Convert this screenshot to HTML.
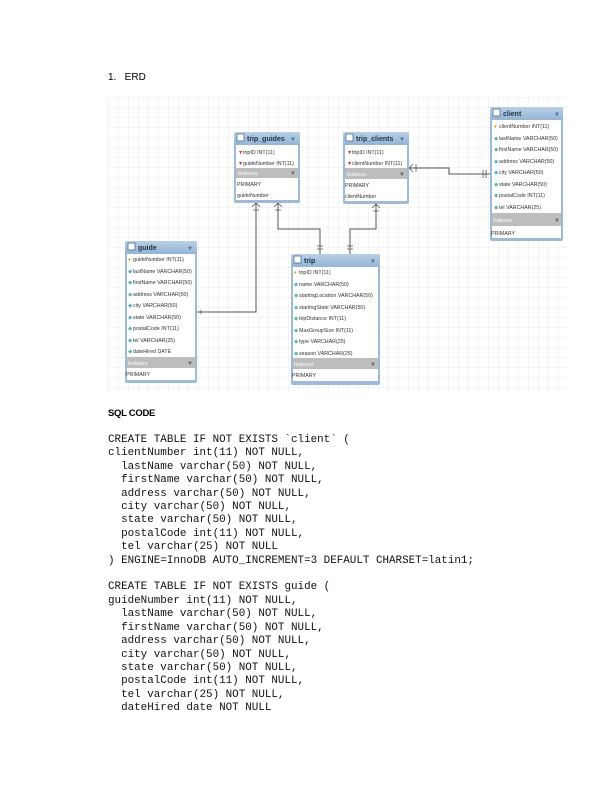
<!DOCTYPE html>
<html><head><meta charset="utf-8"><style>
html,body{margin:0;padding:0;background:#fff;}
body{width:612px;height:792px;position:relative;overflow:hidden;font-family:"Liberation Sans",sans-serif;}
.t{position:absolute;white-space:pre;}
.code{position:absolute;left:108px;top:434px;font-family:"Liberation Mono",monospace;font-size:10.9px;line-height:13.4px;white-space:pre;color:#111;margin:0;}
</style></head><body>
<div class="t" style="left:108px;top:72px;font-size:10px;">1.&nbsp;&nbsp;&nbsp;ERD</div>
<div class="t" style="left:108px;top:408px;font-size:9.5px;font-weight:bold;letter-spacing:-0.3px;">SQL CODE</div>
<svg style="position:absolute;left:0;top:0" width="612" height="400" viewBox="0 0 612 400">
<defs>
<pattern id="g" width="10" height="10" patternUnits="userSpaceOnUse" x="108" y="97">
<path d="M10 0H0V10" fill="none" stroke="#d8d8d8" stroke-width="0.6"/>
</pattern>
<linearGradient id="hd" x1="0" y1="0" x2="0" y2="1"><stop offset="0" stop-color="#b9d0e6"/><stop offset="1" stop-color="#92b4d3"/></linearGradient>
</defs>
<rect x="108" y="97" width="459" height="295" fill="url(#g)"/>
<g fill="none" stroke="#555" stroke-width="1">
<path d="M256 203V312H197"/>
<path d="M278 203V229H320V254"/>
<path d="M376 204V229H350V254"/>
<path d="M409 168H449V174H490"/>
</g>
<g stroke="#555" stroke-width="0.8" fill="none">
<path d="M252 207L256 203L260 207M253 210H259"/>
<path d="M274 207L278 203L282 207M275 210H281"/>
<path d="M372 208L376 204L380 208M373 211H379"/>
<path d="M317 246H323M317 249H323"/>
<path d="M347 246H353M347 249H353"/>
<path d="M413 164L409 168L413 172M416 164V172"/>
<path d="M483 170V178M486 170V178"/>
<path d="M201 310V314"/>
</g>
<g font-family="Liberation Sans,sans-serif" font-size="5.3" fill="#333">
<rect x="234" y="132" width="66" height="71" rx="2" fill="#9dbbd7"/>
<rect x="234" y="132" width="66" height="13" rx="2" fill="url(#hd)"/>
<rect x="236" y="145" width="62" height="23" fill="#fff"/>
<rect x="236" y="168" width="62" height="10" fill="#bdbdbd"/>
<rect x="236" y="178" width="62" height="22" fill="#fff"/>
<rect x="237" y="134" width="7" height="7" fill="#fff" stroke="#4a6f95" stroke-width="0.8"/>
<text x="247" y="141" font-size="7" font-weight="bold" fill="#1f2f44">trip_guides</text>
<text x="290" y="141" font-size="6" fill="#4a6f95">▼</text>
<text x="238" y="154" fill="#c33">▼</text><text x="243" y="154">tripID INT(11)</text>
<text x="238" y="165" fill="#c33">▼</text><text x="243" y="165">guideNumber INT(11)</text>
<text x="238" y="175" fill="#eee" font-weight="bold">Indexes</text><text x="290" y="175" font-size="6" fill="#666">▼</text>
<text x="237" y="186">PRIMARY</text><text x="237" y="197">guideNumber</text>
<rect x="343" y="132" width="66" height="72" rx="2" fill="#9dbbd7"/>
<rect x="343" y="132" width="66" height="13" rx="2" fill="url(#hd)"/>
<rect x="345" y="145" width="62" height="23" fill="#fff"/>
<rect x="345" y="168" width="62" height="11" fill="#bdbdbd"/>
<rect x="345" y="179" width="62" height="22" fill="#fff"/>
<rect x="346" y="134" width="7" height="7" fill="#fff" stroke="#4a6f95" stroke-width="0.8"/>
<text x="356" y="141" font-size="7" font-weight="bold" fill="#1f2f44">trip_clients</text>
<text x="399" y="141" font-size="6" fill="#4a6f95">▼</text>
<text x="347" y="154" fill="#c33">▼</text><text x="352" y="154">tripID INT(11)</text>
<text x="347" y="165" fill="#c33">▼</text><text x="352" y="165">clientNumber INT(11)</text>
<text x="347" y="176" fill="#eee" font-weight="bold">Indexes</text><text x="399" y="176" font-size="6" fill="#666">▼</text>
<text x="345" y="187">PRIMARY</text><text x="345" y="198">clientNumber</text>
<rect x="490" y="107" width="73" height="134" rx="2" fill="#9dbbd7"/>
<rect x="490" y="107" width="73" height="13" rx="2" fill="url(#hd)"/>
<rect x="492" y="120" width="69" height="93" fill="#fff"/>
<rect x="492" y="213" width="69" height="13" fill="#bdbdbd"/>
<rect x="492" y="226" width="69" height="12" fill="#fff"/>
<rect x="493" y="109" width="7" height="7" fill="#fff" stroke="#4a6f95" stroke-width="0.8"/>
<text x="503" y="116" font-size="7" font-weight="bold" fill="#1f2f44">client</text>
<text x="554" y="116" font-size="6" fill="#4a6f95">▼</text>
<text x="494" y="128" fill="#d9a300">♦</text><text x="499" y="128">clientNumber INT(11)</text>
<text x="499" y="140">lastName VARCHAR(50)</text>
<text x="499" y="151">firstName VARCHAR(50)</text>
<text x="499" y="163">address VARCHAR(50)</text>
<text x="499" y="174">city VARCHAR(50)</text>
<text x="499" y="186">state VARCHAR(50)</text>
<text x="499" y="197">postalCode INT(11)</text>
<text x="499" y="209">tel VARCHAR(25)</text>
<g fill="#5bb5b5"><text x="494" y="140">◆</text><text x="494" y="151">◆</text><text x="494" y="163">◆</text><text x="494" y="174">◆</text><text x="494" y="186">◆</text><text x="494" y="197">◆</text><text x="494" y="209">◆</text></g>
<text x="493" y="222" fill="#eee" font-weight="bold">Indexes</text><text x="554" y="222" font-size="6" fill="#666">▼</text>
<text x="491" y="235">PRIMARY</text>
<rect x="125" y="241" width="72" height="142" rx="2" fill="#9dbbd7"/>
<rect x="125" y="241" width="72" height="13" rx="2" fill="url(#hd)"/>
<rect x="127" y="254" width="68" height="107" fill="#fff"/>
<rect x="127" y="357" width="68" height="11" fill="#bdbdbd"/>
<rect x="127" y="368" width="68" height="12" fill="#fff"/>
<rect x="128" y="243" width="7" height="7" fill="#fff" stroke="#4a6f95" stroke-width="0.8"/>
<text x="138" y="250" font-size="7" font-weight="bold" fill="#1f2f44">guide</text>
<text x="187" y="250" font-size="6" fill="#4a6f95">▼</text>
<text x="128" y="261" fill="#d9a300">♦</text><text x="133" y="261">guideNumber INT(11)</text>
<text x="133" y="273">lastName VARCHAR(50)</text>
<text x="133" y="284">firstName VARCHAR(50)</text>
<text x="133" y="296">address VARCHAR(50)</text>
<text x="133" y="307">city VARCHAR(50)</text>
<text x="133" y="319">state VARCHAR(50)</text>
<text x="133" y="330">postalCode INT(11)</text>
<text x="133" y="342">tel VARCHAR(25)</text>
<text x="133" y="353">dateHired DATE</text>
<g fill="#5bb5b5"><text x="128" y="273">◆</text><text x="128" y="284">◆</text><text x="128" y="296">◆</text><text x="128" y="307">◆</text><text x="128" y="319">◆</text><text x="128" y="330">◆</text><text x="128" y="342">◆</text><text x="128" y="353">◆</text></g>
<text x="128" y="365" fill="#eee" font-weight="bold">Indexes</text><text x="187" y="365" font-size="6" fill="#666">▼</text>
<text x="126" y="376">PRIMARY</text>
<rect x="291" y="254" width="89" height="131" rx="2" fill="#9dbbd7"/>
<rect x="291" y="254" width="89" height="13" rx="2" fill="url(#hd)"/>
<rect x="293" y="267" width="85" height="96" fill="#fff"/>
<rect x="293" y="358" width="85" height="11" fill="#bdbdbd"/>
<rect x="293" y="369" width="85" height="12" fill="#fff"/>
<rect x="294" y="256" width="7" height="7" fill="#fff" stroke="#4a6f95" stroke-width="0.8"/>
<text x="304" y="263" font-size="7" font-weight="bold" fill="#1f2f44">trip</text>
<text x="370" y="263" font-size="6" fill="#4a6f95">▼</text>
<text x="294" y="274" fill="#d9a300">♦</text><text x="299" y="274">tripID INT(11)</text>
<text x="299" y="286">name VARCHAR(50)</text>
<text x="299" y="297">startingLocation VARCHAR(50)</text>
<text x="299" y="309">startingState VARCHAR(50)</text>
<text x="299" y="320">tripDistance INT(11)</text>
<text x="299" y="332">MaxGroupSize INT(11)</text>
<text x="299" y="343">type VARCHAR(25)</text>
<text x="299" y="355">season VARCHAR(25)</text>
<g fill="#5bb5b5"><text x="294" y="286">◆</text><text x="294" y="297">◆</text><text x="294" y="309">◆</text><text x="294" y="320">◆</text><text x="294" y="332">◆</text><text x="294" y="343">◆</text><text x="294" y="355">◆</text></g>
<text x="294" y="366" fill="#eee" font-weight="bold">Indexes</text><text x="370" y="366" font-size="6" fill="#666">▼</text>
<text x="292" y="377">PRIMARY</text>
</g>
</svg>
<pre class="code">CREATE TABLE IF NOT EXISTS `client` (
clientNumber int(11) NOT NULL,
  lastName varchar(50) NOT NULL,
  firstName varchar(50) NOT NULL,
  address varchar(50) NOT NULL,
  city varchar(50) NOT NULL,
  state varchar(50) NOT NULL,
  postalCode int(11) NOT NULL,
  tel varchar(25) NOT NULL
) ENGINE=InnoDB AUTO_INCREMENT=3 DEFAULT CHARSET=latin1;

CREATE TABLE IF NOT EXISTS guide (
guideNumber int(11) NOT NULL,
  lastName varchar(50) NOT NULL,
  firstName varchar(50) NOT NULL,
  address varchar(50) NOT NULL,
  city varchar(50) NOT NULL,
  state varchar(50) NOT NULL,
  postalCode int(11) NOT NULL,
  tel varchar(25) NOT NULL,
  dateHired date NOT NULL</pre>
</body></html>
